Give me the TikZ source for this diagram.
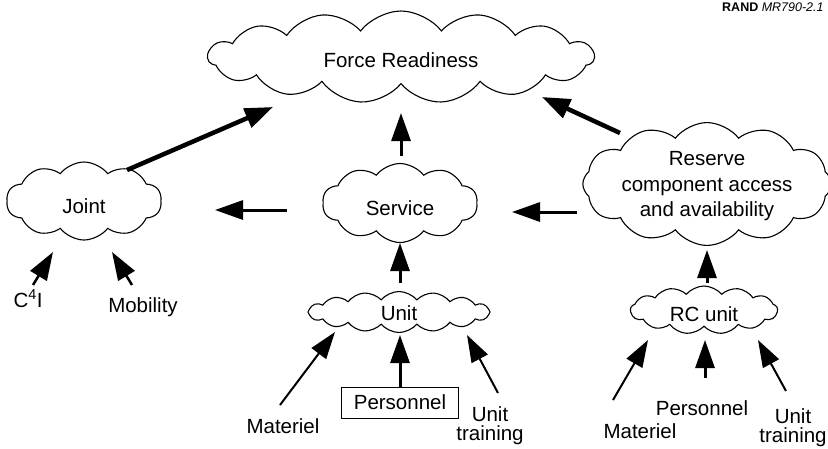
\documentclass[tikz,border=0pt]{standalone}
\usepackage{fontspec}
\setmainfont{Liberation Sans}
\usetikzlibrary{shapes.symbols,arrows.meta}
\newcommand\lblfont{\fontsize{20.5}{25.5}\selectfont}
\newcommand\utfont{\fontsize{20.5}{19}\selectfont}
\begin{document}
\begin{tikzpicture}[x=1pt,y=-1pt,
  cl/.style={cloud, draw, line width=1.1pt, cloud ignores aspect, inner sep=1pt, font=\lblfont, align=center, cloud puff arc=105},
  lbl/.style={font=\lblfont, inner sep=0pt},
  utl/.style={font=\utfont, inner sep=0pt, align=center},
  arr/.style={-{Triangle[length=28pt,width=19pt]}, line width=3pt},
  arrthick/.style={-{Triangle[length=28pt,width=20pt]}, line width=4.5pt},
  arrthin/.style={-{Triangle[length=27pt,width=18pt]}, line width=2pt}]
\useasboundingbox (0,0) rectangle (828,448);

% header
\node[anchor=base west, inner sep=0pt, font=\fontsize{12.5}{14}\selectfont] (rand) at (722,11) {\textbf{RAND} \textit{MR790-2.1}};

% clouds
\node[cl, cloud puffs=15, minimum width=386pt, minimum height=92pt, text height=20pt, text depth=0pt] (fr) at (401,57) {Force Readiness};
\node[cl, cloud puffs=10, minimum width=155pt, minimum height=78pt, text height=25pt, text depth=0pt] (joint) at (84,201) {Joint};
\node[cl, cloud puffs=10, minimum width=155pt, minimum height=79pt, text height=24pt, text depth=0pt] (service) at (400,203) {Service};
\node[cl, cloud puffs=12, minimum width=239pt, minimum height=120pt, text depth=0pt] (reserve) at (707,184) {Reserve\\component access\\and availability};
\node[cl, cloud puffs=16, cloud puff arc=100, minimum width=182pt, minimum height=41pt, text height=16pt, text depth=0pt] (unit) at (399,312) {Unit};
\node[cl, cloud puffs=13, cloud puff arc=100, minimum width=147pt, minimum height=48pt, text height=23pt, text depth=0pt] (rcunit) at (704,310) {RC unit};

% box
\node[draw, line width=1pt, minimum width=117pt, minimum height=31pt, inner sep=0pt, font=\lblfont] (pers) at (400,402.5) {Personnel};

% labels
\node[lbl, anchor=base] (c4i) at (28,307) {C\textsuperscript{4}I};
\node[lbl, anchor=base] (mob) at (143,312) {Mobility};
\node[lbl, anchor=base] (matL) at (283,433) {Materiel};
\node[utl] (utL) at (490,426) {Unit\\training};
\node[lbl, anchor=base] (matR) at (640,438) {Materiel};
\node[lbl, anchor=base] (persR) at (702,415) {Personnel};
\node[utl] (utR) at (793,427.5) {Unit\\training};

% connector end points
\coordinate (a1s) at (127,170); \coordinate (a1e) at (273,107);
\coordinate (a2s) at (401,156); \coordinate (a2e) at (401,113);
\coordinate (a3s) at (620,133); \coordinate (a3e) at (542,97);
\coordinate (a4s) at (287,210); \coordinate (a4e) at (215,210);
\coordinate (a5s) at (577,212); \coordinate (a5e) at (512,212);
\coordinate (a6s) at (400,283); \coordinate (a6e) at (400,243);
\coordinate (a7s) at (707,283); \coordinate (a7e) at (707,250);
\coordinate (a8s) at (33,285);  \coordinate (a8e) at (53,252);
\coordinate (a9s) at (132,285); \coordinate (a9e) at (112,252);
\coordinate (a10s) at (280,405); \coordinate (a10e) at (335,332);
\coordinate (a11e) at (400,335);
\coordinate (a12s) at (498,393); \coordinate (a12e) at (467,335);
\coordinate (a13s) at (613,400); \coordinate (a13e) at (648,340);
\coordinate (a14s) at (705,378); \coordinate (a14e) at (705,340);
\coordinate (a15s) at (786,391); \coordinate (a15e) at (758,340);

\draw[arrthick] (a1s) -- (a1e);
\draw[arr] (a2s) -- (a2e);
\draw[arrthick] (a3s) -- (a3e);
\draw[arr] (a4s) -- (a4e);
\draw[arr] (a5s) -- (a5e);
\draw[arr] (a6s) -- (a6e);
\draw[arr] (a7s) -- (a7e);
\draw[arr, line width=2.5pt] (a8s) -- (a8e);
\draw[arr, line width=2.5pt] (a9s) -- (a9e);
\draw[arrthin] (a10s) -- (a10e);
\draw[arr] (pers.north) -- (a11e);
\draw[arrthin] (a12s) -- (a12e);
\draw[arrthin] (a13s) -- (a13e);
\draw[arr] (a14s) -- (a14e);
\draw[arrthin] (a15s) -- (a15e);
\end{tikzpicture}
\end{document}
